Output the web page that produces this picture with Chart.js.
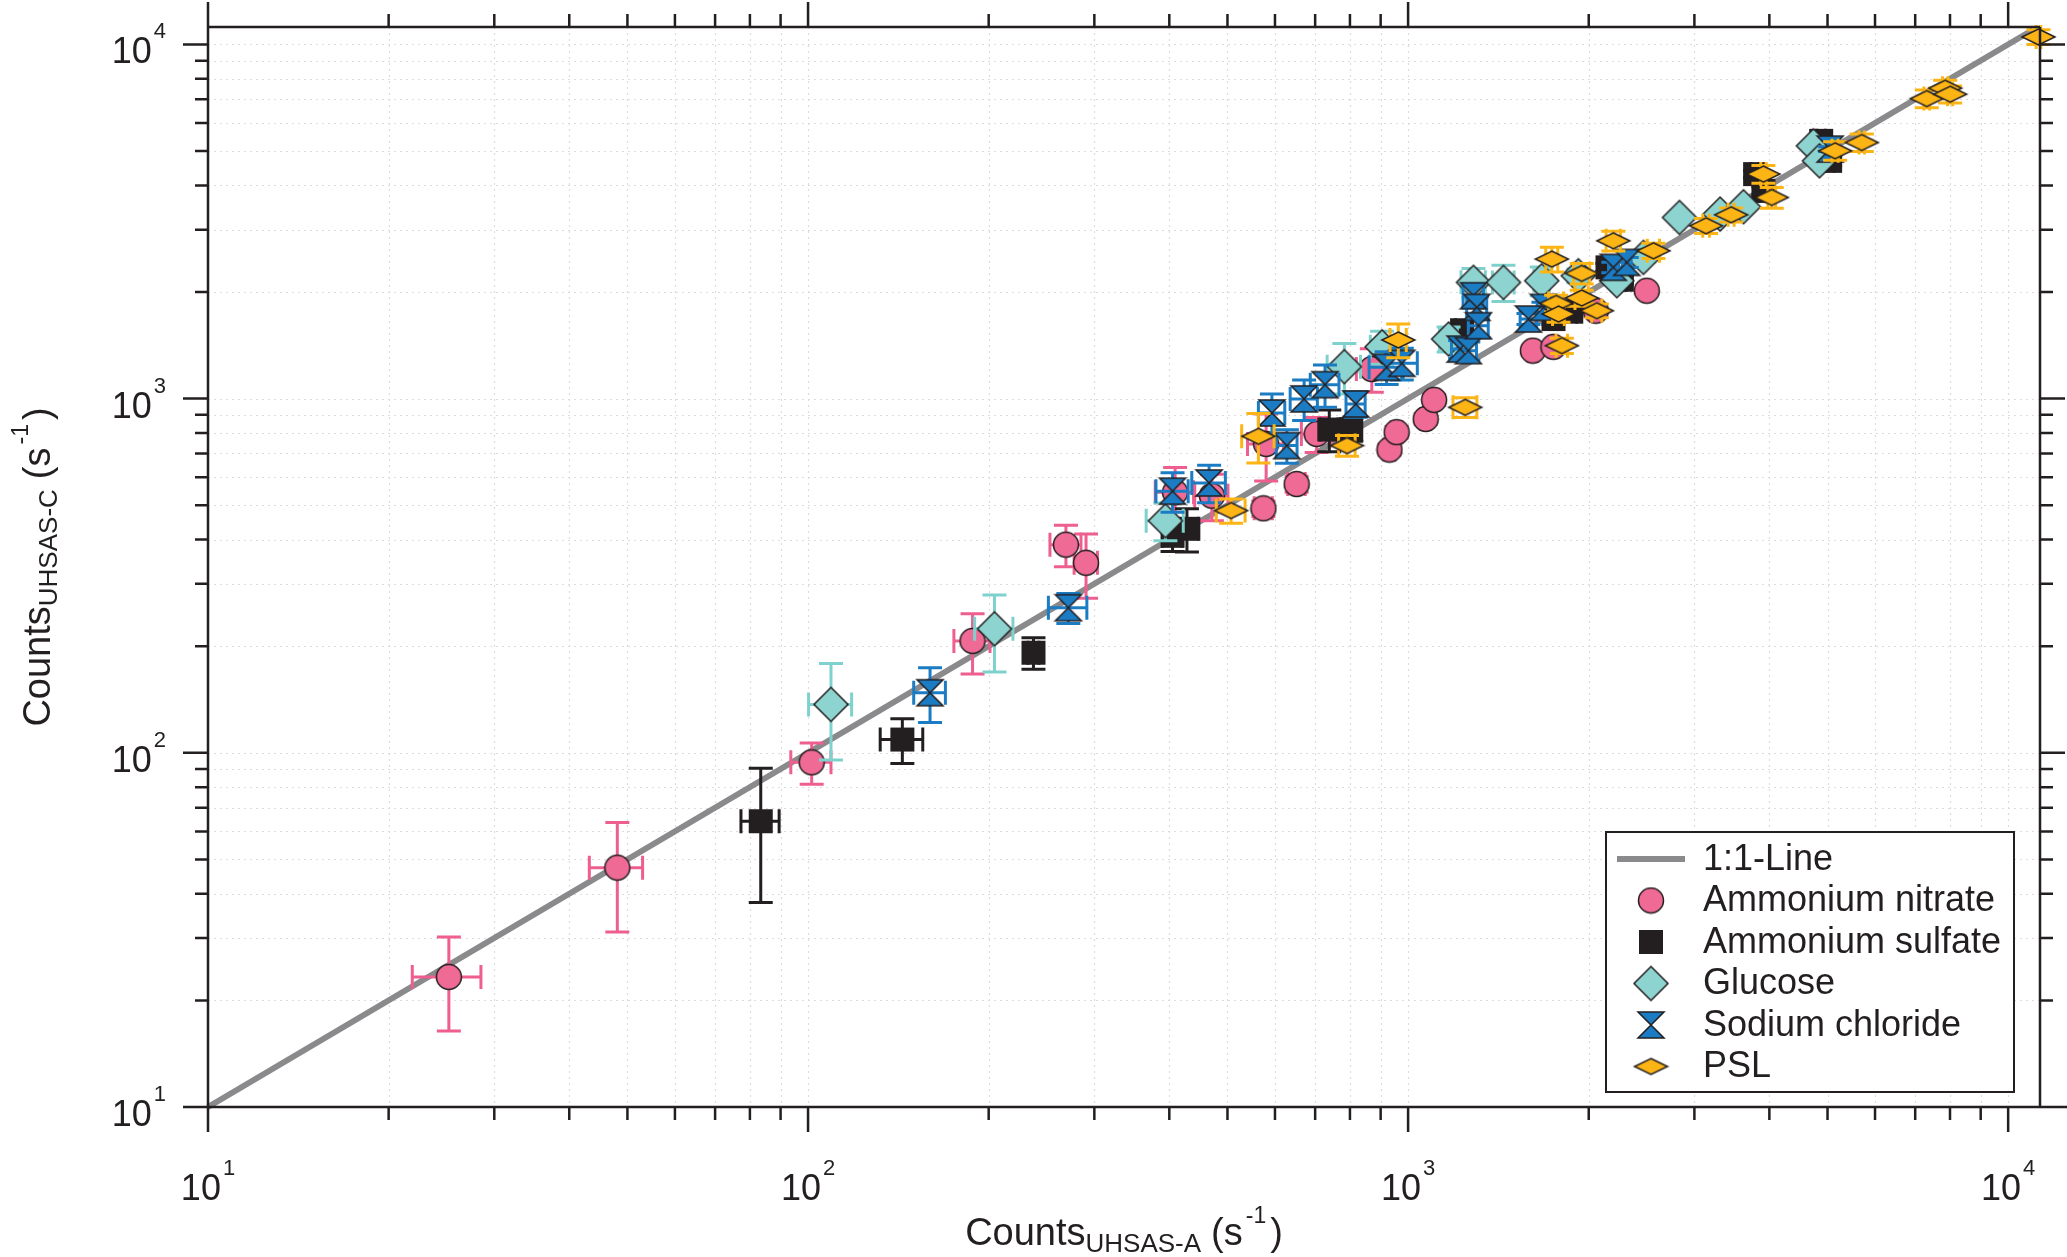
<!DOCTYPE html>
<html>
<head>
<meta charset="utf-8">
<title>UHSAS-A vs UHSAS-C counts</title>
<script src="https://cdn.jsdelivr.net/npm/chart.js@4.4.1/dist/chart.umd.min.js"></script>
<style>
  html, body { margin: 0; padding: 0; background: #fff; }
  canvas { display: block; }
</style>
</head>
<body>
<canvas id="countsChart" width="2067" height="1257"></canvas>
<script>
// axis ticks
const majorTicks = [10, 100, 1000, 10000]
const majorExponents = ['1', '2', '3', '4']
const minorFactors = [2, 3, 4, 5, 6, 7, 8, 9]
const xMin = 10
const xMax = 11300
const yMin = 10
const yMax = 11200

// 1:1 line
const lineX = [10, 11000]
const lineY = [10, 11000]

// Ammonium nitrate
const nitrateX = [25.2, 48.1, 101.4, 188, 269, 290.6, 409, 471, 574, 652, 580, 704, 870, 931, 957, 1070, 1105, 1614, 1747, 2055, 2499]
const nitrateY = [23.3, 47.4, 94, 207, 387, 344, 544, 532, 490, 574, 745, 795, 1212, 718, 804, 876, 992, 1366, 1400, 1771, 2017]
const nitrateXErr = [3.3, 4.9, 7.8, 13, 16, 13, 30, 30, 20, 22, 40, 40, 50, 20, 20, 20, 20, 30, 30, 40, 30]
const nitrateYErr = [6.9, 16.2, 12.5, 40, 52, 71, 95, 80, 25, 30, 160, 90, 170, 25, 30, 30, 35, 40, 40, 60, 40]

// Ammonium sulfate
const sulfateX = [83.4, 143.6, 237.5, 405, 428, 739, 804, 1230, 1747, 1870, 2149, 2271, 3787, 3910, 4879, 5050]
const sulfateY = [64.1, 109, 191.7, 410, 429, 818, 818, 1560, 1678, 1760, 2348, 2166, 4305, 3860, 5343, 4692]
const sulfateXErr = [6.1, 11.7, 5, 15, 20, 25, 25, 30, 40, 40, 40, 40, 60, 60, 80, 80]
const sulfateYErr = [26.3, 15.7, 19.5, 40, 60, 110, 60, 60, 60, 60, 60, 60, 100, 100, 150, 150]

// Glucose
const glucoseX = [109.2, 204.5, 394, 783, 905, 1168, 1285, 1442, 1670, 1922, 2228, 2467, 2833, 3311, 3622, 4737, 4848]
const glucoseY = [137, 224, 452, 1231, 1400, 1473, 2130, 2129, 2152, 2223, 2152, 2504, 3247, 3319, 3480, 5173, 4692]
const glucoseXErr = [9, 15, 28, 50, 40, 40, 60, 60, 50, 40, 40, 40, 30, 30, 30, 50, 50]
const glucoseYErr = [41.6, 55, 55, 200, 150, 120, 200, 250, 200, 100, 60, 80, 50, 50, 50, 80, 80]

// Sodium chloride
const chlorideX = [159.7, 271.5, 405, 466, 593, 628, 671, 727, 818, 921, 976, 1221, 1260, 1285, 1302, 1310, 1587, 1681, 2198, 2314, 5050]
const chlorideY = [147.8, 256.8, 548, 578, 911, 737, 998, 1095, 966, 1226, 1258, 1380, 1366, 1952, 1810, 1606, 1678, 1810, 2348, 2424, 5064]
const chlorideXErr = [9.7, 20, 25, 30, 30, 25, 35, 40, 30, 60, 60, 40, 40, 50, 50, 50, 50, 40, 40, 40, 60]
const chlorideYErr = [26, 25, 70, 70, 120, 80, 130, 150, 80, 130, 130, 80, 80, 150, 130, 120, 60, 60, 80, 80, 80]

// PSL
const pslX = [507, 563, 791, 963, 1245, 1736, 1947, 1765, 1947, 1781, 2063, 1804, 2198, 2564, 3138, 3454, 3910, 4037, 5148, 5703, 7318, 7852, 8004, 11234]
const pslY = [483, 783, 737, 1464, 945, 2477, 2257, 1857, 1923, 1733, 1771, 1411, 2790, 2615, 3076, 3304, 4305, 3698, 5008, 5285, 7031, 7522, 7234, 10500]
const pslXErr = [28, 35, 25, 30, 57, 40, 60, 50, 50, 40, 40, 40, 60, 60, 40, 40, 40, 60, 60, 60, 80, 80, 80, 100]
const pslYErr = [38, 125, 50, 160, 60, 200, 150, 100, 100, 90, 80, 70, 180, 130, 150, 150, 250, 250, 300, 300, 400, 400, 400, 500]

const FONT = '"Liberation Sans", Arial, Helvetica, sans-serif'
const INK = '#231f20'
const CAP = 12

const toPoints = (xs, ys) => xs.map((x, i) => ({ x, y: ys[i] }))

function markerCanvas (w, h, draw) {
  const c = document.createElement('canvas')
  c.width = w
  c.height = h
  const g = c.getContext('2d')
  g.lineWidth = 1.5
  g.strokeStyle = INK
  g.lineJoin = 'miter'
  draw(g, w / 2, h / 2)
  return c
}

const circleMarker = markerCanvas(28, 28, (g, cx, cy) => {
  g.beginPath()
  g.arc(cx, cy, 12.5, 0, Math.PI * 2)
  g.fillStyle = '#f06a96'
  g.fill()
  g.stroke()
})
const squareMarker = markerCanvas(26, 26, (g, cx, cy) => {
  g.fillStyle = INK
  g.fillRect(cx - 12, cy - 12, 24, 24)
})
const diamondMarker = markerCanvas(38, 38, (g, cx, cy) => {
  g.beginPath()
  g.moveTo(cx, cy - 17)
  g.lineTo(cx + 17, cy)
  g.lineTo(cx, cy + 17)
  g.lineTo(cx - 17, cy)
  g.closePath()
  g.fillStyle = '#8dd4d0'
  g.fill()
  g.stroke()
})
const hourglassMarker = markerCanvas(30, 30, (g, cx, cy) => {
  g.beginPath()
  g.moveTo(cx - 13, cy - 13)
  g.lineTo(cx + 13, cy - 13)
  g.lineTo(cx - 13, cy + 13)
  g.lineTo(cx + 13, cy + 13)
  g.closePath()
  g.fillStyle = '#1b7cc4'
  g.fill()
  g.stroke()
})
const pslMarker = markerCanvas(37, 20, (g, cx, cy) => {
  g.beginPath()
  g.moveTo(cx, cy - 8)
  g.lineTo(cx + 16.5, cy)
  g.lineTo(cx, cy + 8)
  g.lineTo(cx - 16.5, cy)
  g.closePath()
  g.fillStyle = '#fdb515'
  g.fill()
  g.stroke()
})

function series (label, xs, ys, xErr, yErr, marker, errColor, order) {
  return {
    type: 'scatter',
    label,
    data: toPoints(xs, ys),
    xErr,
    yErr,
    errColor,
    pointStyle: marker,
    pointRadius: 12,
    showLine: false,
    clip: false,
    order
  }
}

// draws each dataset's error bars just below its own markers
const errorBars = {
  id: 'errorBars',
  beforeDatasetDraw (chart, args) {
    const ds = chart.data.datasets[args.index]
    if (!ds.xErr) return
    const xs = chart.scales.x
    const ys = chart.scales.y
    const ctx = chart.ctx
    ctx.save()
    ctx.strokeStyle = ds.errColor
    ctx.lineWidth = 3
    ds.data.forEach((p, i) => {
      const px = xs.getPixelForValue(p.x)
      const py = ys.getPixelForValue(p.y)
      const top = ys.getPixelForValue(p.y + ds.yErr[i])
      const bot = ys.getPixelForValue(p.y - ds.yErr[i])
      const lft = xs.getPixelForValue(p.x - ds.xErr[i])
      const rgt = xs.getPixelForValue(p.x + ds.xErr[i])
      ctx.beginPath()
      ctx.moveTo(px, top); ctx.lineTo(px, bot)
      ctx.moveTo(px - CAP, top); ctx.lineTo(px + CAP, top)
      ctx.moveTo(px - CAP, bot); ctx.lineTo(px + CAP, bot)
      ctx.moveTo(lft, py); ctx.lineTo(rgt, py)
      ctx.moveTo(lft, py - CAP); ctx.lineTo(lft, py + CAP)
      ctx.moveTo(rgt, py - CAP); ctx.lineTo(rgt, py + CAP)
      ctx.stroke()
    })
    ctx.restore()
  }
}

function tickValues (max) {
  const out = []
  majorTicks.forEach(m => {
    if (m <= max) out.push({ v: m, major: true })
    minorFactors.forEach(f => { if (m * f <= max) out.push({ v: m * f, major: false }) })
  })
  return out
}

function drawRich (ctx, parts, x, y, align) {
  let width = 0
  parts.forEach(p => {
    ctx.font = `${p.size}px ${FONT}`
    width += ctx.measureText(p.text).width + (p.gap || 0)
  })
  let cx = align === 'right' ? x - width : align === 'center' ? x - width / 2 : x
  parts.forEach(p => {
    ctx.font = `${p.size}px ${FONT}`
    ctx.fillText(p.text, cx, y + (p.dy || 0))
    cx += ctx.measureText(p.text).width + (p.gap || 0)
  })
}

const power = (exp) => [
  { text: '10', size: 36, gap: 2 },
  { text: exp, size: 22, dy: -25 }
]

const frame = {
  id: 'frame',
  beforeDatasetsDraw (chart) {
    const { ctx, chartArea: a } = chart
    const xs = chart.scales.x
    const ys = chart.scales.y
    ctx.save()
    ctx.strokeStyle = '#dcdcdc'
    ctx.lineWidth = 1.2
    ctx.setLineDash([2, 4])
    tickValues(xMax).forEach(t => {
      const px = Math.round(xs.getPixelForValue(t.v)) + 0.5
      ctx.beginPath(); ctx.moveTo(px, a.top); ctx.lineTo(px, a.bottom); ctx.stroke()
    })
    tickValues(yMax).forEach(t => {
      const py = Math.round(ys.getPixelForValue(t.v)) + 0.5
      ctx.beginPath(); ctx.moveTo(a.left, py); ctx.lineTo(a.right, py); ctx.stroke()
    })
    ctx.restore()
  },
  afterDatasetsDraw (chart) {
    const { ctx, chartArea: a } = chart
    const xs = chart.scales.x
    const ys = chart.scales.y
    ctx.save()
    ctx.strokeStyle = INK
    ctx.lineWidth = 2.5
    ctx.beginPath()
    ctx.moveTo(a.left, a.bottom); ctx.lineTo(chart.width, a.bottom)
    ctx.moveTo(a.left, a.top); ctx.lineTo(a.right, a.top)
    ctx.moveTo(a.left, a.top); ctx.lineTo(a.left, a.bottom)
    ctx.moveTo(a.right, a.top); ctx.lineTo(a.right, a.bottom)
    tickValues(xMax).forEach(t => {
      const px = xs.getPixelForValue(t.v)
      const len = t.major ? 25 : 13
      ctx.moveTo(px, a.bottom); ctx.lineTo(px, a.bottom + len)
      ctx.moveTo(px, a.top); ctx.lineTo(px, a.top - len)
    })
    tickValues(yMax).forEach(t => {
      const py = ys.getPixelForValue(t.v)
      const len = t.major ? 25 : 13
      ctx.moveTo(a.left, py); ctx.lineTo(a.left - len, py)
      ctx.moveTo(a.right, py); ctx.lineTo(a.right + len, py)
    })
    ctx.stroke()

    ctx.fillStyle = INK
    ctx.textBaseline = 'alphabetic'
    majorTicks.forEach((m, i) => {
      drawRich(ctx, power(majorExponents[i]), xs.getPixelForValue(m), a.bottom + 93, 'center')
      drawRich(ctx, power(majorExponents[i]), a.left - 42, ys.getPixelForValue(m) + 19, 'right')
    })

    // axis titles
    const title = (sub) => [
      { text: 'Counts', size: 38 },
      { text: sub, size: 26, dy: 7, gap: 10 },
      { text: '(s', size: 38, gap: 3 },
      { text: '-1', size: 23, dy: -22, gap: 4 },
      { text: ')', size: 38 }
    ]
    drawRich(ctx, title('UHSAS-A'), (a.left + a.right) / 2, 1245, 'center')
    ctx.translate(50, (a.top + a.bottom) / 2)
    ctx.rotate(-Math.PI / 2)
    drawRich(ctx, title('UHSAS-C'), 0, 0, 'center')
    ctx.restore()
  },
  afterDraw (chart) {
    const ctx = chart.ctx
    ctx.save()
    ctx.fillStyle = '#fff'
    ctx.fillRect(1606, 832, 408, 260)
    ctx.strokeStyle = INK
    ctx.lineWidth = 2
    ctx.strokeRect(1606, 832, 408, 260)
    const rowY = (i) => 859 + i * 41.5
    ctx.strokeStyle = '#8a8a8c'
    ctx.lineWidth = 6
    ctx.beginPath(); ctx.moveTo(1617, rowY(0)); ctx.lineTo(1685, rowY(0)); ctx.stroke()
    const markers = [circleMarker, squareMarker, diamondMarker, hourglassMarker, pslMarker]
    markers.forEach((m, i) => {
      ctx.drawImage(m, 1651 - m.width / 2, rowY(i + 1) - m.height / 2)
    })
    ctx.fillStyle = INK
    ctx.font = `36px ${FONT}`
    ctx.textBaseline = 'middle'
    chart.data.datasets.forEach((ds, i) => ctx.fillText(ds.label, 1703, rowY(i) + 1))
    ctx.restore()
  }
}

new Chart(document.getElementById('countsChart'), {
  type: 'scatter',
  data: {
    datasets: [
      {
        type: 'line',
        label: '1:1-Line',
        data: toPoints(lineX, lineY),
        borderColor: '#8a8a8c',
        borderWidth: 6,
        pointRadius: 0,
        fill: false,
        clip: false,
        order: 10
      },
      series('Ammonium nitrate', nitrateX, nitrateY, nitrateXErr, nitrateYErr, circleMarker, '#ee5f8f', 5),
      series('Ammonium sulfate', sulfateX, sulfateY, sulfateXErr, sulfateYErr, squareMarker, INK, 4),
      series('Glucose', glucoseX, glucoseY, glucoseXErr, glucoseYErr, diamondMarker, '#7fd1cd', 3),
      series('Sodium chloride', chlorideX, chlorideY, chlorideXErr, chlorideYErr, hourglassMarker, '#1b7cc4', 2),
      series('PSL', pslX, pslY, pslXErr, pslYErr, pslMarker, '#fdb515', 1)
    ]
  },
  options: {
    responsive: false,
    devicePixelRatio: 1,
    animation: false,
    events: [],
    layout: { padding: { left: 208, top: 27, right: 27, bottom: 150 } },
    scales: {
      x: { type: 'logarithmic', min: xMin, max: xMax, display: false },
      y: { type: 'logarithmic', min: yMin, max: yMax, display: false }
    },
    plugins: {
      legend: { display: false },
      tooltip: { enabled: false }
    }
  },
  plugins: [errorBars, frame]
})
</script>
</body>
</html>
